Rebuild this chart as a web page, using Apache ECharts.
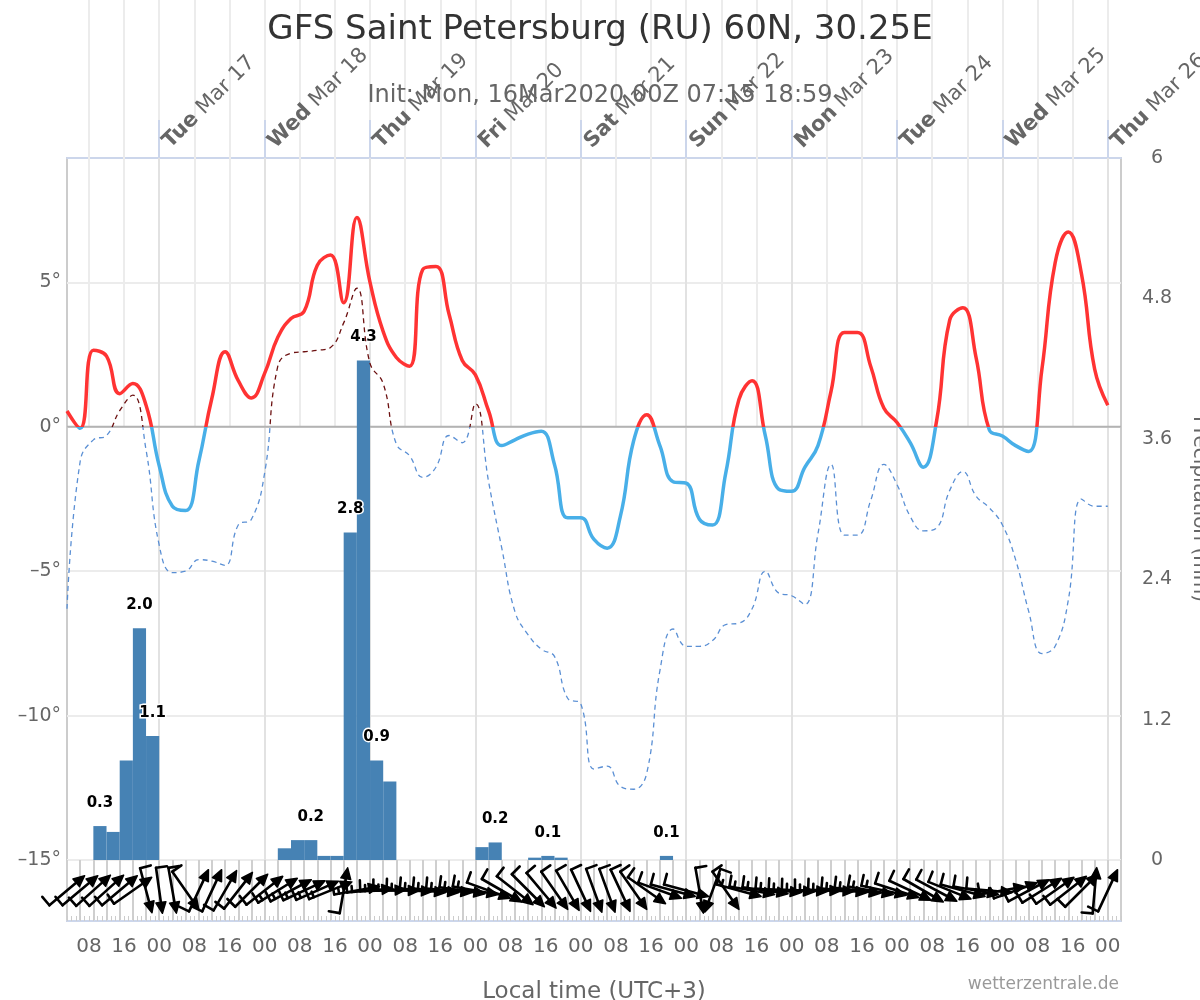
<!DOCTYPE html>
<html><head><meta charset="utf-8">
<script src="https://cdn.jsdelivr.net/npm/echarts@6/dist/echarts.min.js"></script>
<style>html,body{margin:0;padding:0;background:#fff}#c{width:1200px;height:1000px}</style>
</head><body><div id="c"></div>
<script>
// x values are hours since Mon 16 Mar 2020 00:00 local time (UTC+3)
const startHour = 3;
const endHour = 243;
const stepHours = 3;

const temperature = [0.55,-0.05,2.65,2.45,1.15,1.5,0.75,-1.35,-2.75,-2.9,
  -1.2,1.0,2.6,1.6,1.0,1.85,3.1,3.75,4.0,5.6,
  5.95,4.3,7.25,5.0,3.3,2.4,2.1,5.45,5.55,3.9,
  2.3,1.8,0.55,-0.65,-0.45,-0.25,-0.15,-1.3,-3.15,-3.15,
  -3.9,-4.2,-3.1,-0.5,0.42,-0.65,-1.9,-1.95,-3.2,-3.4,
  -1.6,0.95,1.6,-0.3,-2.15,-2.23,-1.4,-0.65,1.25,3.27,
  3.27,2.1,0.65,0.15,-0.55,-1.4,0.2,3.7,4.12,2.4,
  -0.1,-0.32,-0.65,-0.85,2.0,5.68,6.75,5.3,2.0,0.75];

const dewPoint = [-6.3,-1.2,-0.45,-0.3,0.56,1.1,-0.8,-4.1,-5.05,-5.0,
  -4.6,-4.65,-4.8,-3.4,-3.2,-1.6,2.1,2.55,2.6,2.65,
  2.75,3.6,4.8,2.2,1.5,-0.6,-1.0,-1.75,-1.4,-0.3,
  -0.55,0.8,-1.9,-4.2,-6.4,-7.2,-7.7,-7.95,-9.4,-9.6,
  -11.85,-11.75,-12.45,-12.55,-12.0,-8.45,-7.0,-7.6,-7.6,-7.4,
  -6.85,-6.8,-6.3,-5.0,-5.75,-5.85,-6.15,-3.7,-1.3,-3.75,
  -3.75,-2.55,-1.3,-2.0,-3.1,-3.6,-3.5,-2.2,-1.55,-2.4,
  -2.8,-3.4,-4.6,-6.4,-7.85,-7.6,-6.0,-2.5,-2.75,-2.75];

const precipStart = [9,12,15,18,21,51,54,57,60,63,66,69,72,75,96,99,108,111,114,138];
const precipValues = [0.29,0.24,0.85,1.98,1.06,0.10,0.17,0.17,0.035,0.035,2.8,4.27,0.85,0.67,0.11,0.15,0.02,0.035,0.02,0.035];
const precipLabels = ['0.3','','','2.0','1.1','','','0.2','','','2.8','4.3','0.9','','','0.2','','0.1','','0.1'];

// wind: meteorological direction (from, degrees) and speed (kt), 3-hourly
const windDirection = [230,230,228,228,230,235,345,352,350,325,
  205,205,210,218,225,232,238,242,245,246,
  248,190,260,265,268,270,272,275,275,275,
  278,280,290,300,308,315,320,325,330,335,
  340,340,335,325,305,290,285,285,350,20,
  325,285,280,278,275,273,272,270,272,275,
  277,280,282,288,295,300,298,292,285,280,
  275,260,250,242,238,235,232,225,185,205];
const windSpeed = [10,10,10,10,10,10,10,10,10,10,
  10,10,10,10,10,10,15,15,15,15,
  15,10,15,15,15,15,15,15,15,15,
  15,15,10,10,10,10,10,10,10,10,
  10,10,10,10,10,10,10,10,10,10,
  10,15,15,15,15,15,15,15,15,15,
  15,15,15,10,10,10,10,10,10,10,
  10,10,10,10,10,10,10,10,10,10];

const dayTicks = [24,48,72,96,120,144,168,192,216,240];
const dayNames = ['Tue','Wed','Thu','Fri','Sat','Sun','Mon','Tue','Wed','Thu'];
const dayDates = ['Mar 17','Mar 18','Mar 19','Mar 20','Mar 21','Mar 22','Mar 23','Mar 24','Mar 25','Mar 26'];
const hourTicks = [];
for (let h = 8; h <= 240; h += 8) hourTicks.push(h);
const tempTicks = [-15,-10,-5,0,5];

const tempData = temperature.map((v, i) => [startHour + i * stepHours, v]);
const dewData = dewPoint.map((v, i) => [startHour + i * stepHours, v]);
const precipData = precipValues.map((v, i) => [precipStart[i], v]);
const windData = windDirection.map((d, i) => [startHour + i * stepHours, windSpeed[i], d]);

const FONT = 'DejaVu Sans';
const chart = echarts.init(document.getElementById('c'), null, {renderer: 'canvas'});

function precipItem(params, api) {
  const x0 = api.value(0), v = api.value(1);
  const p0 = api.coord([x0, v]);
  const p1 = api.coord([x0 + stepHours, 0]);
  const children = [{type: 'rect', shape: {x: p0[0], y: p0[1], width: p1[0] - p0[0], height: p1[1] - p0[1]},
    style: {fill: '#4682b4'}}];
  const lab = precipLabels[params.dataIndex];
  if (lab) {
    children.push({type: 'text', z2: 20, x: (p0[0] + p1[0]) / 2, y: p0[1] - 23,
      style: {text: lab, fontSize: 15, fontWeight: 'bold', fontFamily: FONT, fill: '#000',
        stroke: '#fff', lineWidth: 3, strokeFirst: true, align: 'center', verticalAlign: 'middle'}});
  }
  return {type: 'group', children: children};
}

function zeroLineItem(params, api) {
  const a = api.coord([startHour, api.value(0)]);
  const b = api.coord([endHour, api.value(0)]);
  return {type: 'line', shape: {x1: a[0], y1: a[1], x2: b[0], y2: b[1]}, style: {stroke: '#b3b3b3', lineWidth: 2}};
}

function windItem(params, api) {
  const x = api.value(0), spd = api.value(1), dir = api.value(2);
  const c = api.coord([x, 0]);
  const to = (dir + 180) * Math.PI / 180;
  const ux = Math.sin(to), uy = -Math.cos(to);
  const px = uy, py = -ux;
  const half = 23;
  const hx = c[0] + ux * half, hy = c[1] + uy * half;
  const tx = c[0] - ux * half, ty = c[1] - uy * half;
  const st = {stroke: '#000', lineWidth: 2.6, lineCap: 'round', lineJoin: 'round'};
  const children = [
    {type: 'line', shape: {x1: tx, y1: ty, x2: hx - ux * 6, y2: hy - uy * 6}, style: st},
    {type: 'polygon', shape: {points: [[hx, hy], [hx - ux * 11 + px * 5, hy - uy * 11 + py * 5], [hx - ux * 11 - px * 5, hy - uy * 11 - py * 5]]},
      style: {fill: '#000', stroke: '#000', lineWidth: 1.5, lineJoin: 'round'}}
  ];
  let rest = spd, pos = 0;
  while (rest >= 10) {
    const bx = tx + ux * pos, by = ty + uy * pos;
    children.push({type: 'line', shape: {x1: bx, y1: by, x2: bx + px * 11, y2: by + py * 11}, style: st});
    pos += 5; rest -= 10;
  }
  if (rest >= 5) {
    const bx = tx + ux * pos, by = ty + uy * pos;
    children.push({type: 'line', shape: {x1: bx, y1: by, x2: bx + px * 6, y2: by + py * 6}, style: st});
  }
  return {type: 'group', children: children};
}

const pad2 = n => (n < 10 ? '0' : '') + n;

const option = {
  animation: false,
  backgroundColor: '#fff',
  textStyle: {fontFamily: FONT},
  title: [
    {text: 'GFS Saint Petersburg (RU) 60N, 30.25E', left: 'center', top: 8,
      textStyle: {fontSize: 34, fontWeight: 'normal', color: '#333', fontFamily: FONT}},
    {text: 'Init: Mon, 16Mar2020 00Z 07:15 18:59', left: 'center', top: 79,
      textStyle: {fontSize: 24, fontWeight: 'normal', color: '#666', fontFamily: FONT}}
  ],
  graphic: [{type: 'text', right: 81, top: 976,
    style: {text: 'wetterzentrale.de', fontSize: 17, fill: '#999', fontFamily: FONT}}],
  grid: [
    {left: 67, right: 79, top: 158, height: 702, show: true, borderColor: '#cccccc', borderWidth: 2,
      backgroundColor: 'transparent', containLabel: false, outerBoundsMode: 'none'},
    {left: 67, right: 79, top: 860, height: 61, show: true, borderColor: '#cccccc', borderWidth: 2,
      backgroundColor: 'transparent', containLabel: false, outerBoundsMode: 'none'}
  ],
  visualMap: [
    {type: 'piecewise', show: false, seriesIndex: 1, dimension: 1,
      pieces: [{gt: 0, lte: 40, color: '#ff3333'}, {gt: -40, lte: 0, color: '#48afe8'}], outOfRange: {color: '#48afe8'}},
    {type: 'piecewise', show: false, seriesIndex: 2, dimension: 1,
      pieces: [{gt: 0, lte: 40, color: '#6b0f0f'}, {gt: -40, lte: 0, color: '#5a8fd4'}], outOfRange: {color: '#5a8fd4'}}
  ],
  xAxis: [
    // 0: 8-hour vertical grid lines in the main panel
    {gridIndex: 0, type: 'value', min: startHour, max: endHour, position: 'bottom',
      axisLine: {show: false}, axisLabel: {show: false}, splitLine: {show: false},
      axisTick: {show: true, inside: true, length: 702, customValues: hourTicks, lineStyle: {color: '#ececec', width: 2}}},
    // 1: day lines in the main panel
    {gridIndex: 0, type: 'value', min: startHour, max: endHour, position: 'bottom',
      axisLine: {show: false}, axisLabel: {show: false}, splitLine: {show: false},
      axisTick: {show: true, inside: true, length: 702, customValues: dayTicks, lineStyle: {color: '#e2e2e2', width: 2}}},
    // 2: top day axis
    {gridIndex: 0, type: 'value', min: startHour, max: endHour, position: 'top',
      axisLine: {show: true, lineStyle: {color: '#ccd6eb', width: 2}},
      axisTick: {show: true, length: 38, customValues: dayTicks, lineStyle: {color: '#ccd6eb', width: 2}},
      splitLine: {show: false},
      axisLabel: {show: true, customValues: dayTicks, rotate: -45, margin: 6, padding: [0, 0, 0, 10],
        fontSize: 21, color: '#666', fontFamily: FONT,
        formatter: function (v) { const i = Math.round(v / 24) - 1; return '{b|' + dayNames[i] + '} ' + dayDates[i]; },
        rich: {b: {fontWeight: 'bold', fontSize: 21, color: '#666', fontFamily: FONT}}}},
    // 3: wind panel 3-hour lines
    {gridIndex: 1, type: 'value', min: startHour, max: endHour, interval: 3, position: 'bottom',
      axisLine: {show: false}, axisTick: {show: false}, axisLabel: {show: false},
      splitLine: {show: true, lineStyle: {color: '#cfcfcf', width: 2}}},
    // 4: hourly minor ticks and axis line
    {gridIndex: 1, type: 'value', min: startHour, max: endHour, interval: 1, position: 'bottom',
      axisLine: {show: true, lineStyle: {color: '#ccd6eb', width: 2}},
      axisTick: {show: true, inside: true, length: 5, lineStyle: {color: '#cccccc', width: 1}},
      axisLabel: {show: false}, splitLine: {show: false}},
    // 5: bottom hour labels
    {gridIndex: 1, type: 'value', min: startHour, max: endHour, position: 'bottom',
      axisLine: {show: false}, axisTick: {show: false}, splitLine: {show: false},
      axisLabel: {show: true, customValues: hourTicks, margin: 16, fontSize: 20, color: '#666', fontFamily: FONT,
        formatter: function (v) { return pad2(Math.round(v) % 24); }},
      name: 'Local time (UTC+3)', nameLocation: 'middle', nameGap: 60,
      nameTextStyle: {fontSize: 23, color: '#666', fontFamily: FONT}}
  ],
  yAxis: [
    {gridIndex: 0, type: 'value', min: -15, max: 9.31, interval: 5, position: 'left',
      axisLine: {show: false}, axisTick: {show: false},
      axisLabel: {margin: 6, fontSize: 19, color: '#666', fontFamily: FONT, customValues: tempTicks,
        formatter: function (v) { if (Math.abs(v % 5) > 1e-6) return ''; return (v < 0 ? '\u2013' + (-v) : v) + '\u00b0'; }},
      splitLine: {show: true, lineStyle: {color: '#ececec', width: 2}}},
    {gridIndex: 0, type: 'value', min: 0, max: 6, interval: 1.2, position: 'right',
      axisLine: {show: false}, axisTick: {show: false}, splitLine: {show: false},
      axisLabel: {margin: 36, align: 'center', fontSize: 19, color: '#666', fontFamily: FONT,
        formatter: function (v) { return String(Math.round(v * 10) / 10); }},
      name: 'Precipitation (mm)', nameLocation: 'middle', nameRotate: -90, nameGap: 68,
      nameTextStyle: {fontSize: 20, color: '#666', fontFamily: FONT}},
    {gridIndex: 1, type: 'value', min: -1, max: 1, show: false}
  ],
  series: [
    {type: 'custom', name: 'Precipitation', xAxisIndex: 0, yAxisIndex: 1, data: precipData,
      renderItem: precipItem, z: 2},
    {type: 'line', name: 'Temperature', xAxisIndex: 0, yAxisIndex: 0, data: tempData,
      smooth: 0.45, showSymbol: false, lineStyle: {width: 3.5}, z: 4},
    {type: 'line', name: 'Dew point', xAxisIndex: 0, yAxisIndex: 0, data: dewData,
      smooth: 0.45, showSymbol: false, lineStyle: {width: 1.3, type: [5, 4]}, z: 3},
    {type: 'custom', name: 'Wind', xAxisIndex: 3, yAxisIndex: 2, data: windData,
      renderItem: windItem, z: 5, clip: false},
    {type: 'custom', name: 'Zero line', xAxisIndex: 0, yAxisIndex: 0, data: [[0]],
      encode: {y: 0}, renderItem: zeroLineItem, z: 1, silent: true}
  ]
};
chart.setOption(option);
</script>
</body></html>
